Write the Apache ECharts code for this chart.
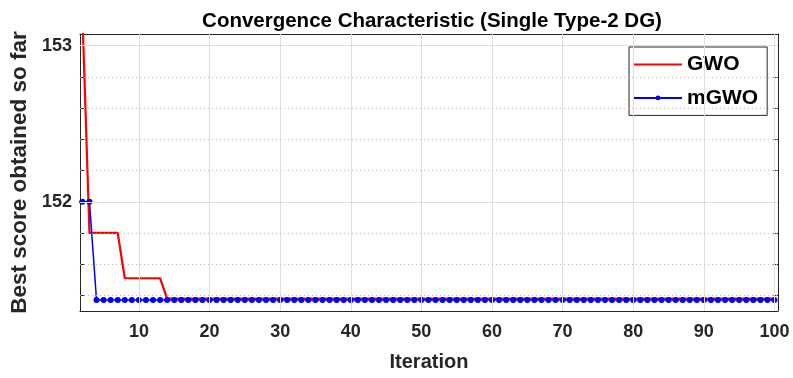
<!DOCTYPE html>
<html>
<head>
<meta charset="utf-8">
<script src="https://cdn.jsdelivr.net/npm/echarts@6/dist/echarts.min.js"></script>
<style>html,body{margin:0;padding:0;background:#fff;}#c{width:793px;height:378px;}</style>
</head>
<body>
<div id="c"></div>
<script>
// ---- data ----
var iterations = [];
for (var i = 1; i <= 100; i++) iterations.push(i);
var gwoValues = [155.0, 153.2,
  151.8, 151.8, 151.8, 151.8, 151.8,
  151.51, 151.51, 151.51, 151.51, 151.51, 151.51];
while (gwoValues.length < 100) gwoValues.push(151.38);
var mgwoValues = [152.0, 152.0, 152.0];
while (mgwoValues.length < 100) mgwoValues.push(151.37);
var xTicks = [10, 20, 30, 40, 50, 60, 70, 80, 90, 100];
var yMajorTicks = [152, 153];
var yMinorTicks = [151.4, 151.6, 151.8, 152.2, 152.4, 152.6, 152.8];
var seriesNames = ['GWO', 'mGWO'];

var FONT = '"Liberation Sans", Arial, Helvetica, sans-serif';
var AX = '#262626';

function pairs(ys) { return iterations.map(function (x, k) { return [x, ys[k]]; }); }

var chart = echarts.init(document.getElementById('c'), null, {renderer: 'canvas'});
var xMin = 1.65, xMax = 100.5, yMin = 151.3, yMax = 153.075;

function xAx(pos, labels) {
  return {
    type: 'value', position: pos, min: xMin, max: xMax,
    axisLine: {show: true, onZero: false, lineStyle: {color: AX, width: 1}},
    axisTick: {show: true, inside: true, length: 7, customValues: xTicks, lineStyle: {color: AX}},
    axisLabel: labels ? {show: true, customValues: xTicks, fontFamily: FONT, fontSize: 18, fontWeight: 'bold', color: AX, margin: 12} : {show: false},
    splitLine: {show: false},
    name: labels ? 'Iteration' : '', nameLocation: 'middle', nameGap: 41,
    nameTextStyle: {fontFamily: FONT, fontSize: 20, fontWeight: 'bold', color: AX}
  };
}
function yAx(pos, ticks, len, labels, line) {
  return {
    type: 'value', position: pos, min: yMin, max: yMax,
    axisLine: {show: line, onZero: false, lineStyle: {color: AX, width: 1}},
    axisTick: {show: true, inside: true, length: len, customValues: ticks, lineStyle: {color: AX}},
    axisLabel: labels ? {show: true, customValues: yMajorTicks, fontFamily: FONT, fontSize: 18, fontWeight: 'bold', color: AX, margin: 8} : {show: false},
    splitLine: {show: false},
    name: labels ? 'Best score obtained so far' : '', nameLocation: 'middle', nameGap: 45, nameRotate: 90,
    nameTextStyle: {fontFamily: FONT, fontSize: 22.5, fontWeight: 'bold', color: AX}
  };
}

var gridMarks = [];
xTicks.forEach(function (v) { gridMarks.push({xAxis: v, lineStyle: {color: '#dedede', width: 1, type: 'solid'}}); });
yMajorTicks.forEach(function (v) { gridMarks.push({yAxis: v, lineStyle: {color: '#dedede', width: 1, type: 'solid'}}); });
yMinorTicks.forEach(function (v) { gridMarks.push({yAxis: v, lineStyle: {color: '#b8b8b8', width: 1, type: [1, 3]}}); });

var option = {
  animation: false,
  backgroundColor: '#ffffff',
  title: {
    text: 'Convergence Characteristic (Single Type-2 DG)',
    left: 427, top: 6, textAlign: 'center',
    textStyle: {fontFamily: FONT, fontSize: 20.5, fontWeight: 'bold', color: '#000'}
  },
  grid: {left: 78, right: 15, top: 34, bottom: 67, containLabel: false},
  xAxis: [xAx('bottom', true), xAx('top', false)],
  yAxis: [
    yAx('left', yMajorTicks, 7, true, true),
    yAx('right', yMajorTicks, 7, false, true),
    yAx('left', yMinorTicks, 4.5, false, false),
    yAx('right', yMinorTicks, 4.5, false, false)
  ],
  legend: {
    orient: 'vertical', left: 629, top: 47,
    padding: [7, 9, 7, 4], itemGap: 12.4, itemWidth: 48, itemHeight: 6,
    borderColor: AX, borderWidth: 1, backgroundColor: '#fff',
    textStyle: {fontFamily: FONT, fontSize: 21, fontWeight: 'bold', color: '#000', lineHeight: 20},
    data: [
      {name: seriesNames[0], itemStyle: {color: 'rgba(0,0,0,0)', borderWidth: 0, opacity: 0}},
      {name: seriesNames[1]}
    ]
  },
  series: [
    {
      type: 'line', name: '_grid', data: [], silent: true, z: 0,
      markLine: {silent: true, symbol: 'none', label: {show: false}, animation: false, data: gridMarks}
    },
    {
      type: 'line', name: seriesNames[0], data: pairs(gwoValues), clip: true,
      showSymbol: false, symbol: 'none', z: 3,
      lineStyle: {color: '#ff0000', width: 2.2}, itemStyle: {color: '#ff0000'}
    },
    {
      type: 'line', name: seriesNames[1], data: pairs(mgwoValues), clip: true,
      symbol: 'circle', symbolSize: 6, showAllSymbol: true, z: 4,
      lineStyle: {color: '#0000ff', width: 1.5}, itemStyle: {color: '#0000ff'}
    }
  ]
};
chart.setOption(option);
</script>
</body>
</html>
